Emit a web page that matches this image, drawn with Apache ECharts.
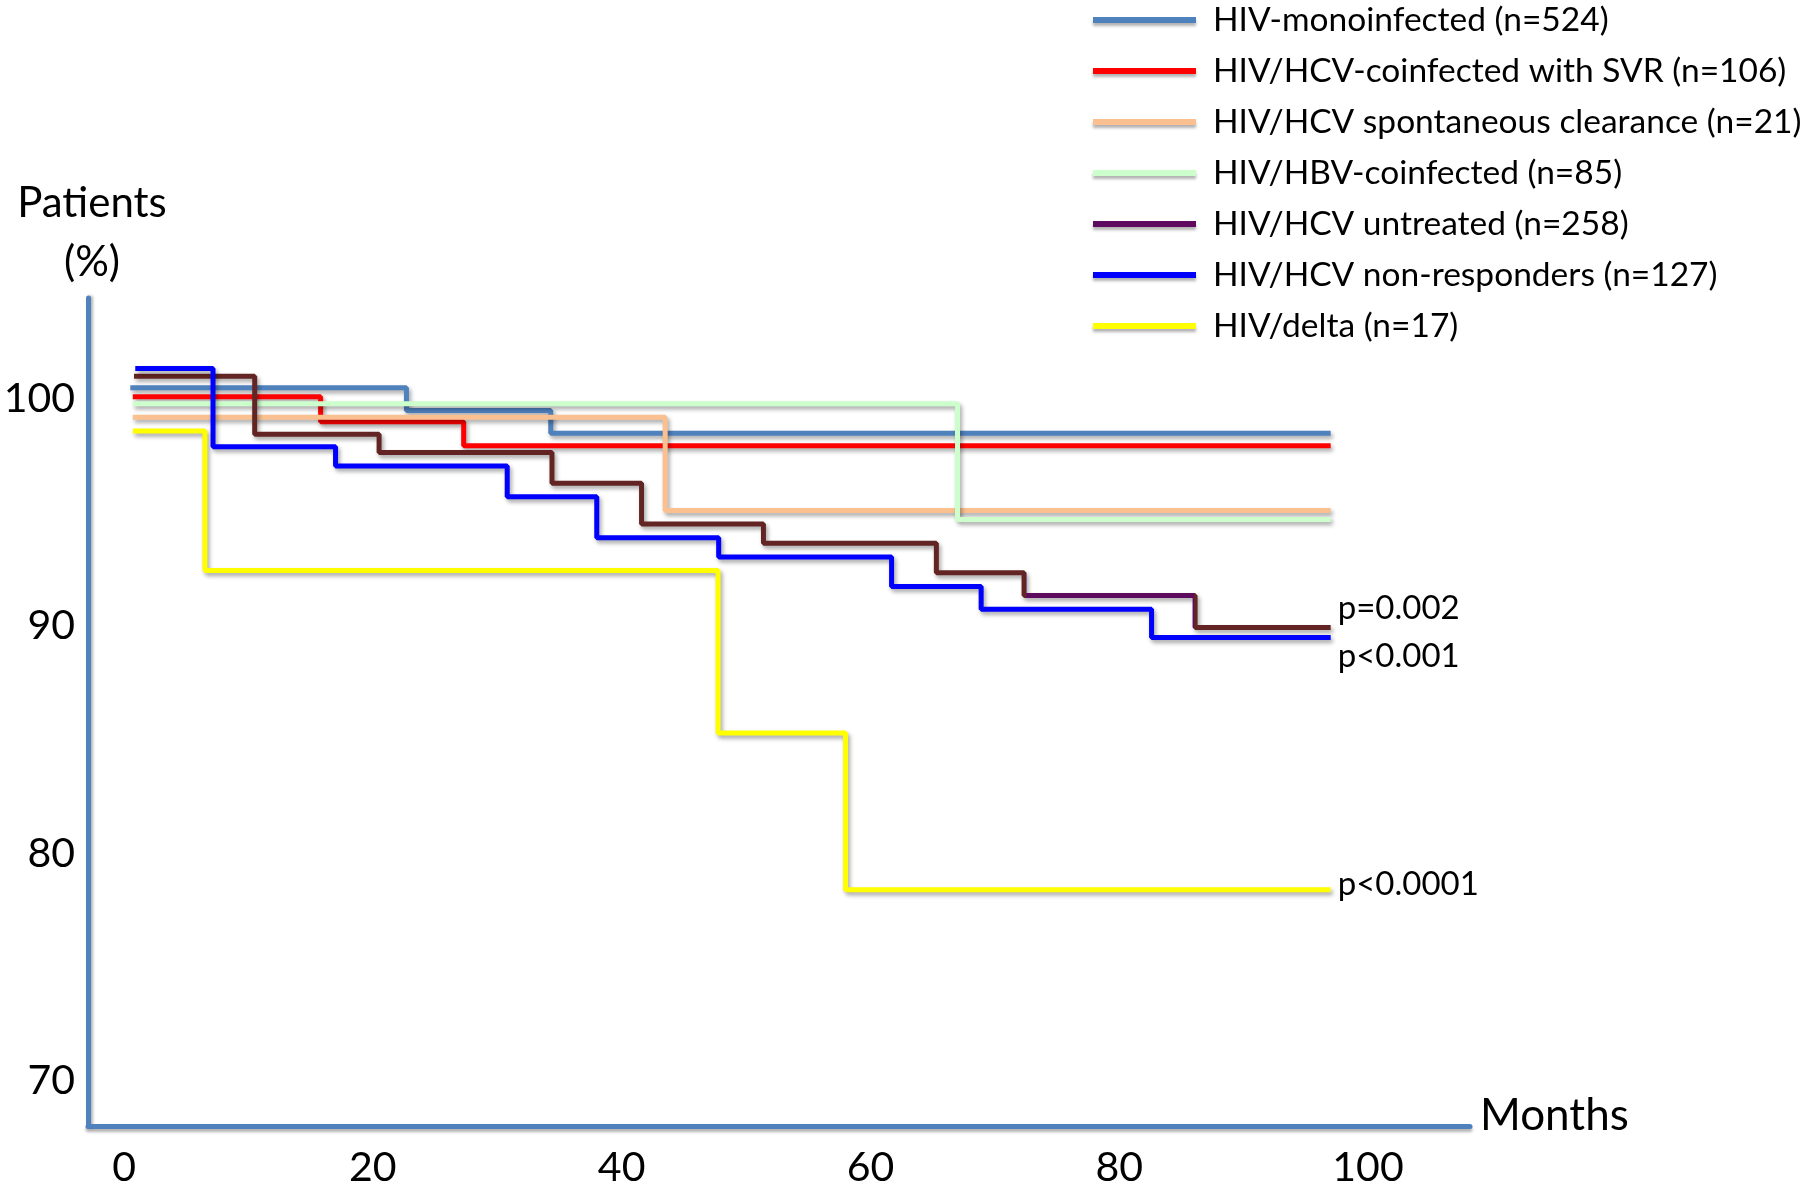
<!DOCTYPE html>
<html>
<head>
<meta charset="utf-8">
<title>Survival by group</title>
<script src="https://cdn.jsdelivr.net/npm/echarts@6/dist/echarts.min.js"></script>
<style>
    html, body { margin: 0; padding: 0; background: #fff; }
    #chart { width: 1810px; height: 1192px; }
</style>
</head>
<body>
<div id="chart"></div>
<script>
// months (x) and patients % (y) at each step of the curves
var monthsMono = [0.5, 22.7, 34.3, 97];
var survMono = [100.5, 99.5, 98.5, 98.5];
var monthsSvr = [0.7, 15.8, 27.3, 97];
var survSvr = [100.1, 99.0, 97.95, 97.95];
var monthsClear = [0.7, 43.5, 97];
var survClear = [99.2, 95.1, 95.1];
var monthsHbv = [0.7, 67.0, 97];
var survHbv = [99.8, 94.7, 94.7];
var monthsUntreated = [0.8, 10.5, 20.5, 34.4, 41.6, 51.4, 65.3, 72.35, 86.1, 97];
var survUntreated = [101.0, 98.45, 97.65, 96.3, 94.5, 93.65, 92.35, 91.35, 89.95, 89.95];
var monthsNonresp = [0.9, 7.15, 17.0, 30.8, 38.0, 47.8, 61.7, 68.9, 82.6, 97];
var survNonresp = [101.35, 97.9, 97.05, 95.7, 93.9, 93.05, 91.75, 90.75, 89.5, 89.5];
var monthsDelta = [0.7, 6.5, 47.75, 58.0, 97];
var survDelta = [98.6, 92.45, 85.3, 78.4, 78.4];

var groupNames = [
    'HIV-monoinfected (n=524)',
    'HIV/HCV-coinfected with SVR (n=106)',
    'HIV/HCV spontaneous clearance (n=21)',
    'HIV/HBV-coinfected (n=85)',
    'HIV/HCV untreated (n=258)',
    'HIV/HCV non-responders (n=127)',
    'HIV/delta (n=17)'
];
var groupColors = ['#4f81bd', '#ff0000', '#fac090', '#ccffcc', '#5e0a5e', '#0000ff', '#ffff00'];
var xTicks = [0, 20, 40, 60, 80, 100];
var yTicks = [70, 80, 90, 100];
var pLabels = ['p=0.002', 'p<0.001', 'p<0.0001'];

function zip(xs, ys) {
    var out = [];
    for (var i = 0; i < xs.length; i++) out.push([xs[i], ys[i]]);
    return out;
}

function stepLine(idx, xs, ys, extra) {
    var s = {
        name: groupNames[idx],
        type: 'line',
        step: 'end',
        symbol: 'none',
        data: zip(xs, ys),
        itemStyle: { color: groupColors[idx] },
        lineStyle: {
            color: groupColors[idx],
            width: 5,
            shadowColor: 'rgba(0,0,0,0.35)',
            shadowBlur: 4,
            shadowOffsetX: 2,
            shadowOffsetY: 3
        }
    };
    if (extra) {
        for (var k in extra) s[k] = extra[k];
    }
    return s;
}

function pLabel(text, dy) {
    return {
        show: true,
        formatter: text,
        color: '#000',
        fontFamily: 'Lato',
        fontSize: 33,
        distance: 7,
        offset: [0, dy]
    };
}

function createSurvival(selectorId) {
    var myChart = echarts.init(document.getElementById(selectorId));
    var font = 'Lato';
    var legendData = groupNames.map(function (n, i) {
        return { name: n, itemStyle: { color: groupColors[i] } };
    });

    // untreated curve: colour comes from the visualMap (brown with one purple stretch)
    var untreated = stepLine(4, monthsUntreated, survUntreated, { endLabel: pLabel(pLabels[0], -19) });
    delete untreated.itemStyle;
    delete untreated.lineStyle.color;

    var option = {
        backgroundColor: '#ffffff',
        animation: false,
        textStyle: { fontFamily: font },
        legend: {
            orient: 'vertical',
            left: 1093,
            top: 3,
            padding: 0,
            itemGap: 17,
            itemWidth: 103,
            itemHeight: 6,
            icon: 'rect',
            selectedMode: false,
            data: legendData,
            itemStyle: {
                shadowColor: 'rgba(0,0,0,0.3)',
                shadowBlur: 3,
                shadowOffsetY: 3
            },
            textStyle: {
                fontFamily: font,
                fontSize: 33.5,
                lineHeight: 34,
                color: '#000',
                padding: [0, 0, 0, 12]
            }
        },
        grid: {
            left: 88,
            right: 340,
            top: 298,
            bottom: 66
        },
        visualMap: {
            show: false,
            type: 'piecewise',
            seriesIndex: 4,
            dimension: 0,
            pieces: [
                { lt: 72.5, color: '#632523' },
                { gte: 72.5, lt: 86, color: '#5e0a5e' },
                { gte: 86, color: '#632523' }
            ]
        },
        xAxis: {
            type: 'value',
            min: -2.9,
            max: 108.2,
            name: 'Months',
            nameLocation: 'end',
            nameGap: 10,
            nameTextStyle: {
                fontFamily: font,
                fontSize: 44,
                color: '#000',
                verticalAlign: 'bottom',
                lineHeight: 20
            },
            axisLine: {
                show: true,
                onZero: false,
                lineStyle: {
                    color: '#4f81bd',
                    width: 5,
                    shadowColor: 'rgba(0,0,0,0.3)',
                    shadowBlur: 3,
                    shadowOffsetY: 3
                }
            },
            axisTick: { show: false },
            splitLine: { show: false },
            axisLabel: {
                customValues: xTicks,
                margin: 21,
                fontFamily: font,
                fontSize: 41,
                color: '#000'
            }
        },
        yAxis: {
            type: 'value',
            min: 68,
            max: 104.45,
            name: 'Patients\n(%)',
            nameLocation: 'end',
            nameGap: 6,
            nameTextStyle: {
                fontFamily: font,
                fontSize: 42,
                lineHeight: 59,
                color: '#000',
                align: 'center',
                padding: [0, 0, 0, 8]
            },
            axisLine: {
                show: true,
                onZero: false,
                lineStyle: {
                    color: '#4f81bd',
                    width: 5,
                    shadowColor: 'rgba(0,0,0,0.3)',
                    shadowBlur: 3,
                    shadowOffsetX: 2
                }
            },
            axisTick: { show: false },
            splitLine: { show: false },
            axisLabel: {
                customValues: yTicks,
                margin: 13,
                fontFamily: font,
                fontSize: 41,
                color: '#000'
            }
        },
        series: [
            stepLine(0, monthsMono, survMono),
            stepLine(1, monthsSvr, survSvr),
            stepLine(2, monthsClear, survClear),
            stepLine(3, monthsHbv, survHbv),
            untreated,
            stepLine(5, monthsNonresp, survNonresp, { endLabel: pLabel(pLabels[1], 19) }),
            stepLine(6, monthsDelta, survDelta, { endLabel: pLabel(pLabels[2], -5) })
        ]
    };
    myChart.setOption(option);
    window.addEventListener("resize", function () {
        myChart.resize();
    });
}

createSurvival('chart');
</script>
</body>
</html>
